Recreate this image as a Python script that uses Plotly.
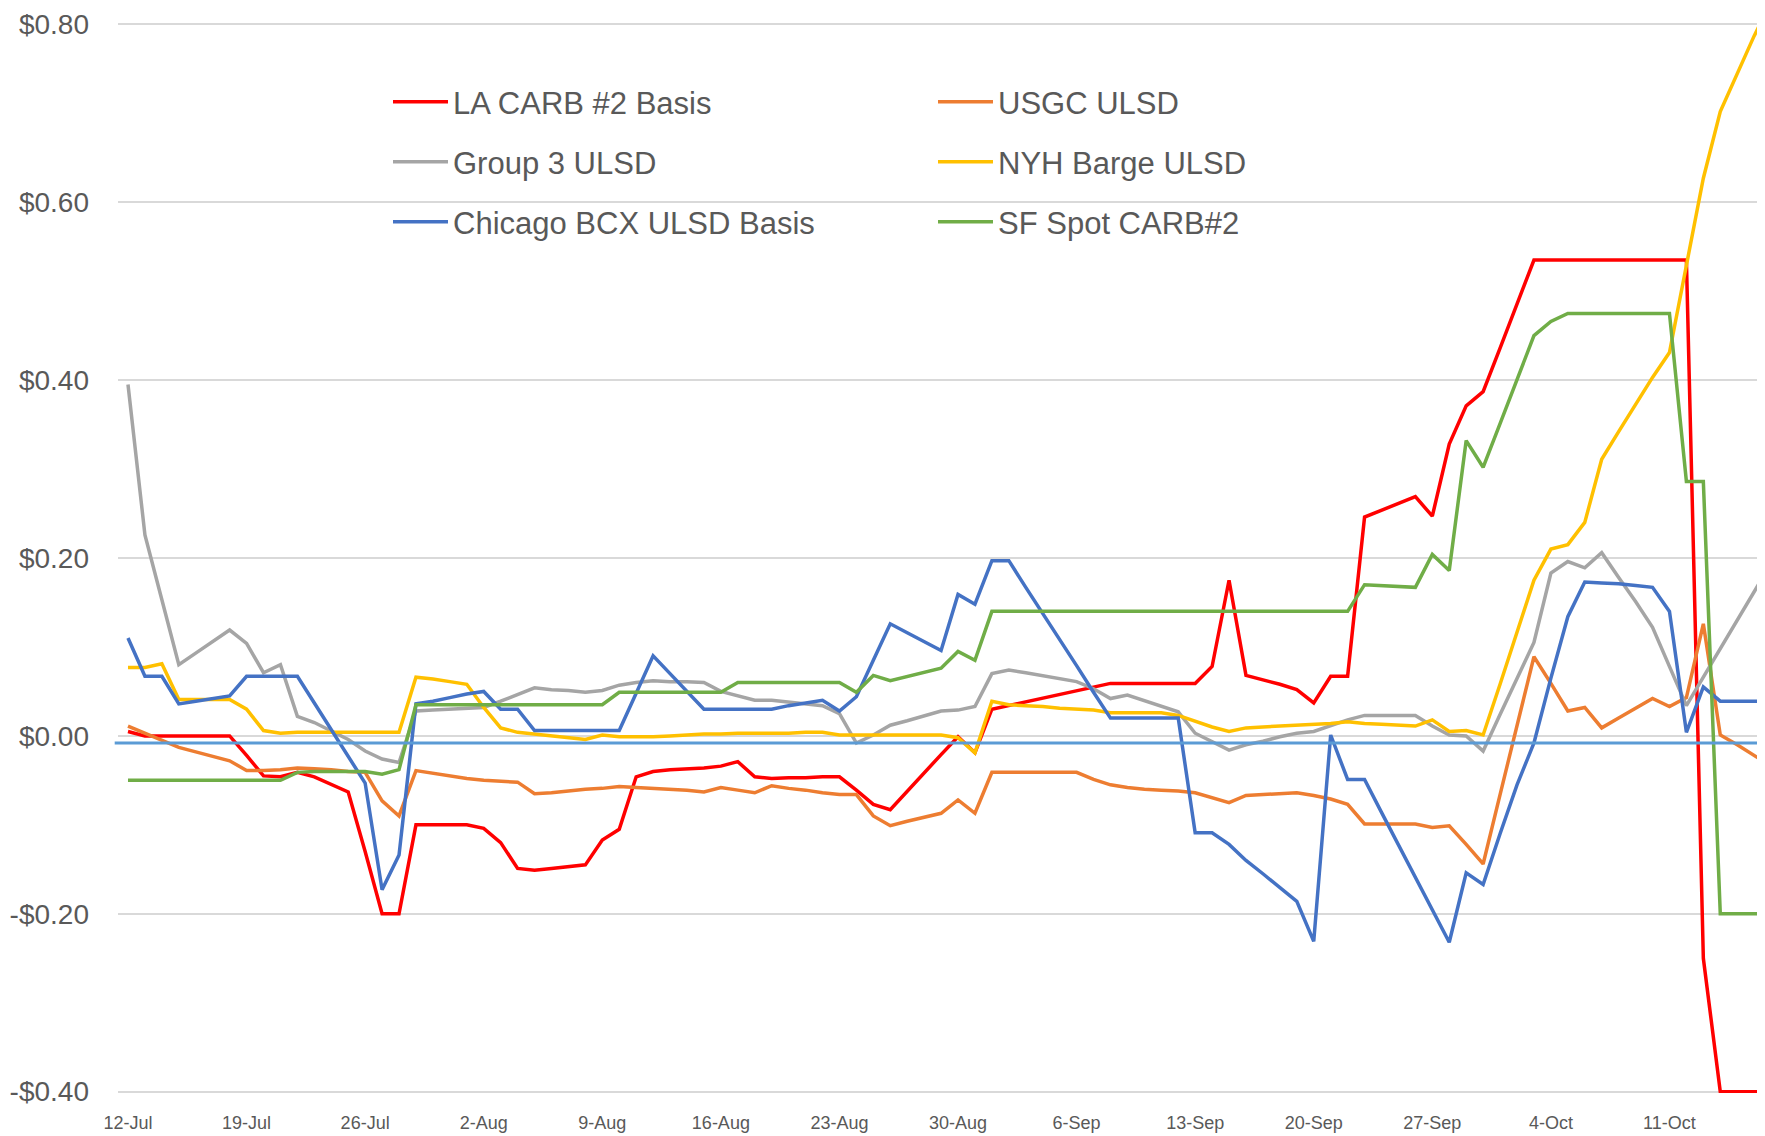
import pandas as pd
import plotly.graph_objects as go

# ---------------- data (daily, 12-Jul-2021 .. 18-Oct-2021) ----------------
START_DATE = "2021-07-12"
N_DAYS = 99
dates = pd.date_range(START_DATE, periods=N_DAYS, freq="D")

la_carb = [
    0.005, 0.0, 0.0, 0.0, 0.0, 0.0, 0.0, -0.022, -0.045, -0.046,
    -0.041, -0.046, -0.054, -0.063, -0.13, -0.20, -0.20, -0.10, -0.10, -0.10,
    -0.10, -0.104, -0.12, -0.149, -0.151, -0.149, -0.147, -0.145, -0.117, -0.105,
    -0.046, -0.040, -0.038, -0.037, -0.036, -0.034, -0.029, -0.046, -0.048, -0.047,
    -0.047, -0.046, -0.046, -0.061, -0.077, -0.083, -0.062, -0.042, -0.021, -0.001,
    -0.019, 0.030, 0.034, 0.038, 0.042, 0.046, 0.050, 0.055, 0.059, 0.059,
    0.059, 0.059, 0.059, 0.059, 0.078, 0.175, 0.068, 0.063, 0.058, 0.052,
    0.037, 0.067, 0.067, 0.246, 0.254, 0.262, 0.269, 0.247, 0.328, 0.371,
    0.387, 0.436, 0.486, 0.535, 0.535, 0.535, 0.535, 0.535, 0.535, 0.535,
    0.535, 0.535, 0.535, -0.25, -0.40, -0.40, -0.40, -0.40, -0.40,
]

usgc = [
    0.011, 0.003, -0.005, -0.013, -0.018, -0.023, -0.028, -0.039, -0.039, -0.038,
    -0.036, -0.037, -0.038, -0.040, -0.041, -0.073, -0.090, -0.039, -0.042, -0.045,
    -0.048, -0.050, -0.051, -0.052, -0.065, -0.064, -0.062, -0.060, -0.059, -0.057,
    -0.058, -0.059, -0.060, -0.061, -0.063, -0.058, -0.061, -0.064, -0.056, -0.059,
    -0.061, -0.064, -0.066, -0.066, -0.090, -0.101, -0.096, -0.092, -0.087, -0.072,
    -0.087, -0.041, -0.041, -0.041, -0.041, -0.041, -0.041, -0.049, -0.055, -0.058,
    -0.060, -0.061, -0.062, -0.064, -0.069, -0.075, -0.067, -0.066, -0.065, -0.064,
    -0.067, -0.071, -0.077, -0.099, -0.099, -0.099, -0.099, -0.103, -0.101, -0.122,
    -0.144, -0.066, 0.011, 0.089, 0.059, 0.028, 0.032, 0.009, 0.020, 0.031,
    0.042, 0.033, 0.043, 0.126, 0.001, -0.010, -0.022, -0.034, -0.046,
]

group3 = [
    0.395, 0.226, 0.153, 0.080, 0.093, 0.106, 0.119, 0.104, 0.071, 0.080,
    0.022, 0.015, 0.005, -0.004, -0.017, -0.026, -0.030, 0.028, 0.029, 0.030,
    0.031, 0.032, 0.039, 0.046, 0.054, 0.052, 0.051, 0.049, 0.051, 0.057,
    0.060, 0.062, 0.061, 0.061, 0.060, 0.050, 0.045, 0.040, 0.040, 0.038,
    0.036, 0.034, 0.025, -0.008, 0.001, 0.012, 0.017, 0.023, 0.028, 0.029,
    0.033, 0.070, 0.074, 0.071, 0.068, 0.064, 0.061, 0.053, 0.042, 0.046,
    0.040, 0.034, 0.027, 0.003, -0.006, -0.016, -0.010, -0.006, -0.001, 0.003,
    0.005, 0.012, 0.018, 0.023, 0.023, 0.023, 0.023, 0.011, 0.001, 0.000,
    -0.017, 0.024, 0.064, 0.105, 0.183, 0.196, 0.189, 0.206, 0.178, 0.151,
    0.122, 0.078, 0.034, 0.066, 0.098, 0.130, 0.162, 0.194, 0.226,
]

nyh = [
    0.077, 0.077, 0.081, 0.041, 0.041, 0.041, 0.041, 0.030, 0.006, 0.003,
    0.004, 0.004, 0.004, 0.004, 0.004, 0.004, 0.004, 0.066, 0.064, 0.061,
    0.058, 0.032, 0.009, 0.004, 0.002, 0.000, -0.002, -0.004, 0.001, -0.001,
    -0.001, -0.001, 0.000, 0.001, 0.002, 0.002, 0.003, 0.003, 0.003, 0.003,
    0.004, 0.004, 0.001, 0.001, 0.001, 0.001, 0.001, 0.001, 0.001, -0.002,
    -0.019, 0.039, 0.035, 0.034, 0.033, 0.031, 0.030, 0.029, 0.026, 0.026,
    0.026, 0.026, 0.023, 0.016, 0.010, 0.005, 0.009, 0.010, 0.011, 0.012,
    0.013, 0.014, 0.016, 0.014, 0.013, 0.012, 0.011, 0.018, 0.005, 0.006,
    0.001, 0.058, 0.116, 0.175, 0.210, 0.215, 0.240, 0.311, 0.342, 0.372,
    0.403, 0.431, 0.528, 0.627, 0.702, 0.745, 0.787, 0.825, 0.860,
]

chicago = [
    0.110, 0.067, 0.067, 0.036, 0.039, 0.042, 0.045, 0.067, 0.067, 0.067,
    0.067, 0.037, 0.007, -0.023, -0.053, -0.173, -0.134, 0.036, 0.039, 0.043,
    0.047, 0.050, 0.030, 0.030, 0.006, 0.006, 0.006, 0.006, 0.006, 0.006,
    0.048, 0.090, 0.070, 0.050, 0.030, 0.030, 0.030, 0.030, 0.030, 0.034,
    0.037, 0.040, 0.028, 0.044, 0.085, 0.126, 0.116, 0.106, 0.096, 0.159,
    0.148, 0.197, 0.197, 0.167, 0.138, 0.108, 0.079, 0.049, 0.020, 0.020,
    0.020, 0.020, 0.020, -0.109, -0.109, -0.122, -0.140, -0.155, -0.170, -0.186,
    -0.231, 0.001, -0.049, -0.049, -0.086, -0.122, -0.159, -0.195, -0.232, -0.154,
    -0.167, -0.110, -0.055, -0.008, 0.065, 0.134, 0.173, 0.172, 0.171, 0.169,
    0.167, 0.140, 0.004, 0.055, 0.039, 0.039, 0.039, 0.039, 0.039,
]

sf_spot = [
    -0.050, -0.050, -0.050, -0.050, -0.050, -0.050, -0.050, -0.050, -0.050, -0.050,
    -0.041, -0.040, -0.040, -0.040, -0.040, -0.043, -0.038, 0.035, 0.035, 0.035,
    0.035, 0.035, 0.035, 0.035, 0.035, 0.035, 0.035, 0.035, 0.035, 0.049,
    0.049, 0.049, 0.049, 0.049, 0.049, 0.049, 0.060, 0.060, 0.060, 0.060,
    0.060, 0.060, 0.060, 0.049, 0.068, 0.062, 0.067, 0.071, 0.076, 0.095,
    0.085, 0.140, 0.140, 0.140, 0.140, 0.140, 0.140, 0.140, 0.140, 0.140,
    0.140, 0.140, 0.140, 0.140, 0.140, 0.140, 0.140, 0.140, 0.140, 0.140,
    0.140, 0.140, 0.140, 0.170, 0.169, 0.168, 0.167, 0.204, 0.186, 0.332,
    0.302, 0.351, 0.400, 0.450, 0.466, 0.475, 0.475, 0.475, 0.475, 0.475,
    0.475, 0.475, 0.286, 0.286, -0.20, -0.20, -0.20, -0.20, -0.20,
]

# reference line drawn across the chart
REF_LINE_VALUE = -0.008

series_names = [
    "LA CARB #2 Basis", "USGC ULSD",
    "Group 3 ULSD", "NYH Barge ULSD",
    "Chicago BCX ULSD Basis", "SF Spot CARB#2",
]
series_values = [la_carb, usgc, group3, nyh, chicago, sf_spot]
series_colors = ["#FF0000", "#ED7D31", "#A5A5A5", "#FFC000", "#4472C4", "#70AD47"]
series_legend = ["legend", "legend", "legend2", "legend2", "legend3", "legend3"]

xtick_dates = pd.date_range(START_DATE, periods=14, freq="7D")
xtick_labels = ["12-Jul", "19-Jul", "26-Jul", "2-Aug", "9-Aug", "16-Aug", "23-Aug",
                "30-Aug", "6-Sep", "13-Sep", "20-Sep", "27-Sep", "4-Oct", "11-Oct"]
ytick_values = [-0.4, -0.2, 0.0, 0.2, 0.4, 0.6, 0.8]
ytick_labels = ["-$0.40", "-$0.20", "$0.00", "$0.20", "$0.40", "$0.60", "$0.80"]

# ---------------- figure ----------------
FONT = "Liberation Sans"
TXT = "#595959"

fig = go.Figure()
for name, vals, col, lg in zip(series_names, series_values, series_colors, series_legend):
    fig.add_trace(go.Scatter(
        x=dates, y=vals, name=name, mode="lines",
        line=dict(color=col, width=3.5),
        legend=lg,
    ))

fig.add_shape(type="line", xref="paper", yref="y", x0=-0.002, x1=1.0,
              y0=REF_LINE_VALUE, y1=REF_LINE_VALUE,
              line=dict(color="#5B9BD5", width=3), layer="above")

x0 = pd.Timestamp(START_DATE)
x_range = [x0 + pd.Timedelta(days=-0.59), x0 + pd.Timedelta(days=96.64)]

# page body has an 8px default margin -> figure is 8px smaller than the window
PAGE_OFF = 8
W, H = 1765 - PAGE_OFF, 1136 - PAGE_OFF
ML, MR, MT, MB = 118 - PAGE_OFF, 0, 23 - PAGE_OFF, 43
PW, PH = W - ML - MR, H - MT - MB


def ypaper(win_px):
    return 1 - (win_px - PAGE_OFF - MT) / PH


def xpaper(win_px):
    return (win_px - PAGE_OFF - ML) / PW


legend_common = dict(
    orientation="h", xanchor="left", yanchor="top",
    bgcolor="rgba(0,0,0,0)", borderwidth=0,
    font=dict(family=FONT, size=31, color=TXT),
    itemwidth=55, indentation=-3, entrywidth=478, entrywidthmode="pixels",
    traceorder="normal",
)

fig.update_layout(
    width=W, height=H,
    margin=dict(l=ML, r=MR, t=MT, b=MB, autoexpand=False),
    paper_bgcolor="white", plot_bgcolor="white",
    showlegend=True,
    legend=dict(x=xpaper(391), y=ypaper(75), **legend_common),
    legend2=dict(x=xpaper(391), y=ypaper(135), **legend_common),
    legend3=dict(x=xpaper(391), y=ypaper(195), **legend_common),
    xaxis=dict(
        type="date", range=x_range,
        tickvals=list(xtick_dates), ticktext=xtick_labels,
        showgrid=False, zeroline=False, showline=False, ticks="",
        tickfont=dict(family=FONT, size=18, color=TXT),
        ticklabelstandoff=17, automargin=False,
    ),
    yaxis=dict(
        range=[-0.4015, 0.8015],
        tickvals=ytick_values, ticktext=ytick_labels,
        showgrid=True, gridcolor="#D9D9D9", gridwidth=1.5,
        zeroline=False, showline=False, ticks="",
        tickfont=dict(family=FONT, size=28, color=TXT),
        ticklabelstandoff=28, automargin=False,
    ),
)

fig.write_html("out.html", config={"displayModeBar": False})
